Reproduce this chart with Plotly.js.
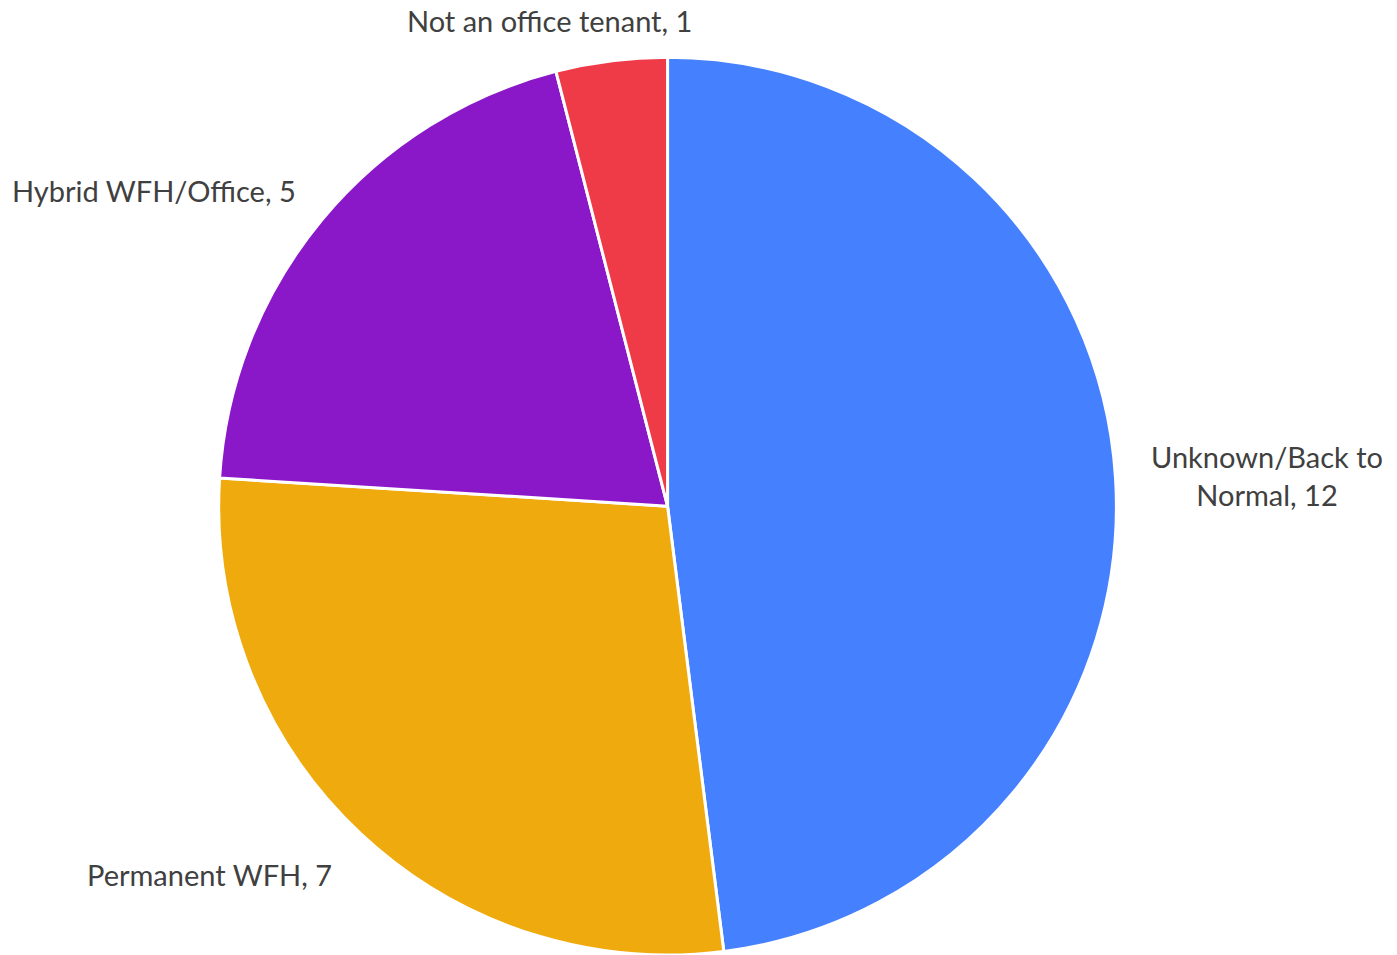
<!DOCTYPE html>
<html>
<head>
<meta charset="utf-8">
<script src="https://cdn.plot.ly/plotly-3.0.1.min.js"></script>
<style>html,body{margin:0;padding:0;background:#fff;}#chart{width:1397px;height:955px;}</style>
</head>
<body>
<div id="chart"></div>
<script>
const categories = ["Unknown/Back to Normal", "Permanent WFH", "Hybrid WFH/Office", "Not an office tenant"];
const values = [12, 7, 5, 1];
const colors = ["#4580FF", "#EFAA0E", "#8B18C8", "#EF3A47"];
const labelTexts = ["Unknown/Back to<br>Normal, 12", "Permanent WFH, 7", "Hybrid WFH/Office, 5", "Not an office tenant, 1"];
const labelPos = [[0.907, 0.502], [0.150, 0.084], [0.110, 0.801], [0.393, 0.979]];

const font = {family: "Lato, 'Open Sans', sans-serif", size: 29, color: "#404040"};
const trace = {
  type: "pie",
  labels: categories,
  values: values,
  sort: false,
  direction: "clockwise",
  rotation: 0,
  marker: {colors: colors, line: {color: "#ffffff", width: 3}},
  textinfo: "none",
  hoverinfo: "label+value",
  domain: {x: [0.1561, 0.7996], y: [0.0, 0.94]},
  showlegend: false
};
const annotations = labelTexts.map((t, i) => ({
  text: t, x: labelPos[i][0], y: labelPos[i][1], xref: "paper", yref: "paper",
  showarrow: false, font: font, align: "center", xanchor: "center", yanchor: "middle"
}));
Plotly.newPlot("chart", [trace], {
  width: 1397, height: 955,
  margin: {l: 0, r: 0, t: 0, b: 0},
  paper_bgcolor: "#ffffff",
  annotations: annotations,
  showlegend: false
}, {displayModeBar: false, staticPlot: true});
</script>
</body>
</html>
